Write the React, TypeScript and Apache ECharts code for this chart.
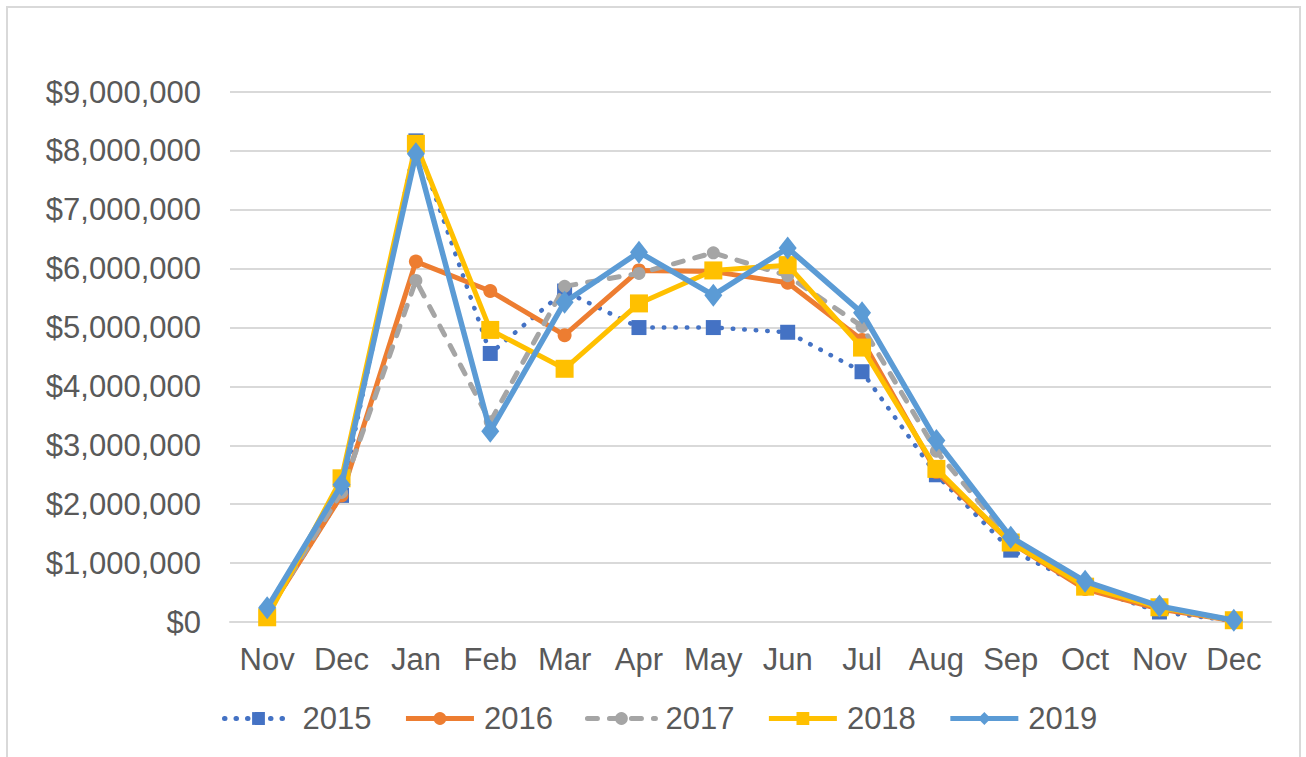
import React, { useEffect, useRef } from "react";
import * as echarts from "echarts";

const categories = ["Nov", "Dec", "Jan", "Feb", "Mar", "Apr", "May", "Jun", "Jul", "Aug", "Sep", "Oct", "Nov", "Dec"];
const yTicks = [0, 1000000, 2000000, 3000000, 4000000, 5000000, 6000000, 7000000, 8000000, 9000000];

const v2015 = [150000, 2150000, 8170000, 4560000, 5620000, 5000000, 5000000, 4920000, 4250000, 2500000, 1220000, 600000, 170000, 20000];
const v2016 = [150000, 2150000, 6120000, 5620000, 4870000, 5970000, 5950000, 5760000, 4790000, 2550000, 1350000, 560000, 220000, 20000];
const v2017 = [150000, 2200000, 5800000, 3400000, 5700000, 5920000, 6270000, 5880000, 5020000, 2900000, 1400000, 650000, 250000, 20000];
const v2018 = [80000, 2440000, 8120000, 4960000, 4300000, 5410000, 5970000, 6060000, 4660000, 2600000, 1350000, 600000, 250000, 30000];
const v2019 = [240000, 2330000, 7950000, 3240000, 5430000, 6280000, 5550000, 6350000, 5250000, 3080000, 1440000, 690000, 270000, 30000];

const seriesNames = ["2015", "2016", "2017", "2018", "2019"];
const seriesColors = ["#4472C4", "#ED7D31", "#A5A5A5", "#FFC000", "#5B9BD5"];

const fmt = (v: number) => "$" + v.toLocaleString("en-US");

export default function App() {
  const ref = useRef<HTMLDivElement>(null);
  useEffect(() => {
    if (!ref.current) return;
    const chart = echarts.init(ref.current, null, { renderer: "svg" });
    const font = "Liberation Sans, Arial, sans-serif";
    const data = [v2015, v2016, v2017, v2018, v2019];
    const lineStyles: any[] = [
      { width: 4.5, type: [0.5, 11], cap: "round" },
      { width: 5, type: "solid" },
      { width: 5, type: [10, 12], cap: "round" },
      { width: 5, type: "solid" },
      { width: 5.5, type: "solid" },
    ];
    const symbols = ["rect", "circle", "circle", "rect", "diamond"];
    const symbolSizes: any[] = [15, 14, 13, 18, [18, 23]];
    chart.setOption({
      animation: false,
      backgroundColor: "#ffffff",
      grid: { left: 222, top: 84, width: 1041, height: 530 },
      legend: {
        left: 209,
        top: 690,
        itemWidth: 68,
        itemHeight: 16,
        itemGap: 32,
        lineStyle: { width: 5 },
        textStyle: { fontSize: 31, color: "#595959", fontFamily: font, padding: [0, 0, 0, 5] },
        data: seriesNames,
      },
      xAxis: {
        type: "category",
        data: categories,
        boundaryGap: true,
        axisLine: { show: true, lineStyle: { color: "#d9d9d9", width: 2 } },
        axisTick: { show: false },
        axisLabel: { fontSize: 31, color: "#595959", fontFamily: font, margin: 22, interval: 0 },
      },
      yAxis: {
        type: "value",
        min: yTicks[0],
        max: yTicks[yTicks.length - 1],
        interval: 1000000,
        axisLine: { show: false },
        axisTick: { show: false },
        splitLine: { lineStyle: { color: "#d9d9d9", width: 2 } },
        axisLabel: { fontSize: 31, color: "#595959", fontFamily: font, margin: 29, formatter: fmt },
      },
      series: seriesNames.map((name, i) => ({
        name,
        type: "line",
        data: data[i],
        color: seriesColors[i],
        symbol: symbols[i],
        symbolSize: symbolSizes[i],
        showAllSymbol: true,
        lineStyle: { color: seriesColors[i], ...lineStyles[i] },
        itemStyle: { color: seriesColors[i] },
        z: 2 + i,
      })),
    });
    return () => chart.dispose();
  }, []);
  return (
    <div
      ref={ref}
      style={{
        position: "absolute",
        left: 6,
        top: 6,
        width: 1295,
        height: 760,
        border: "2px solid #d9d9d9",
        boxSizing: "border-box",
        background: "#fff",
      }}
    />
  );
}
